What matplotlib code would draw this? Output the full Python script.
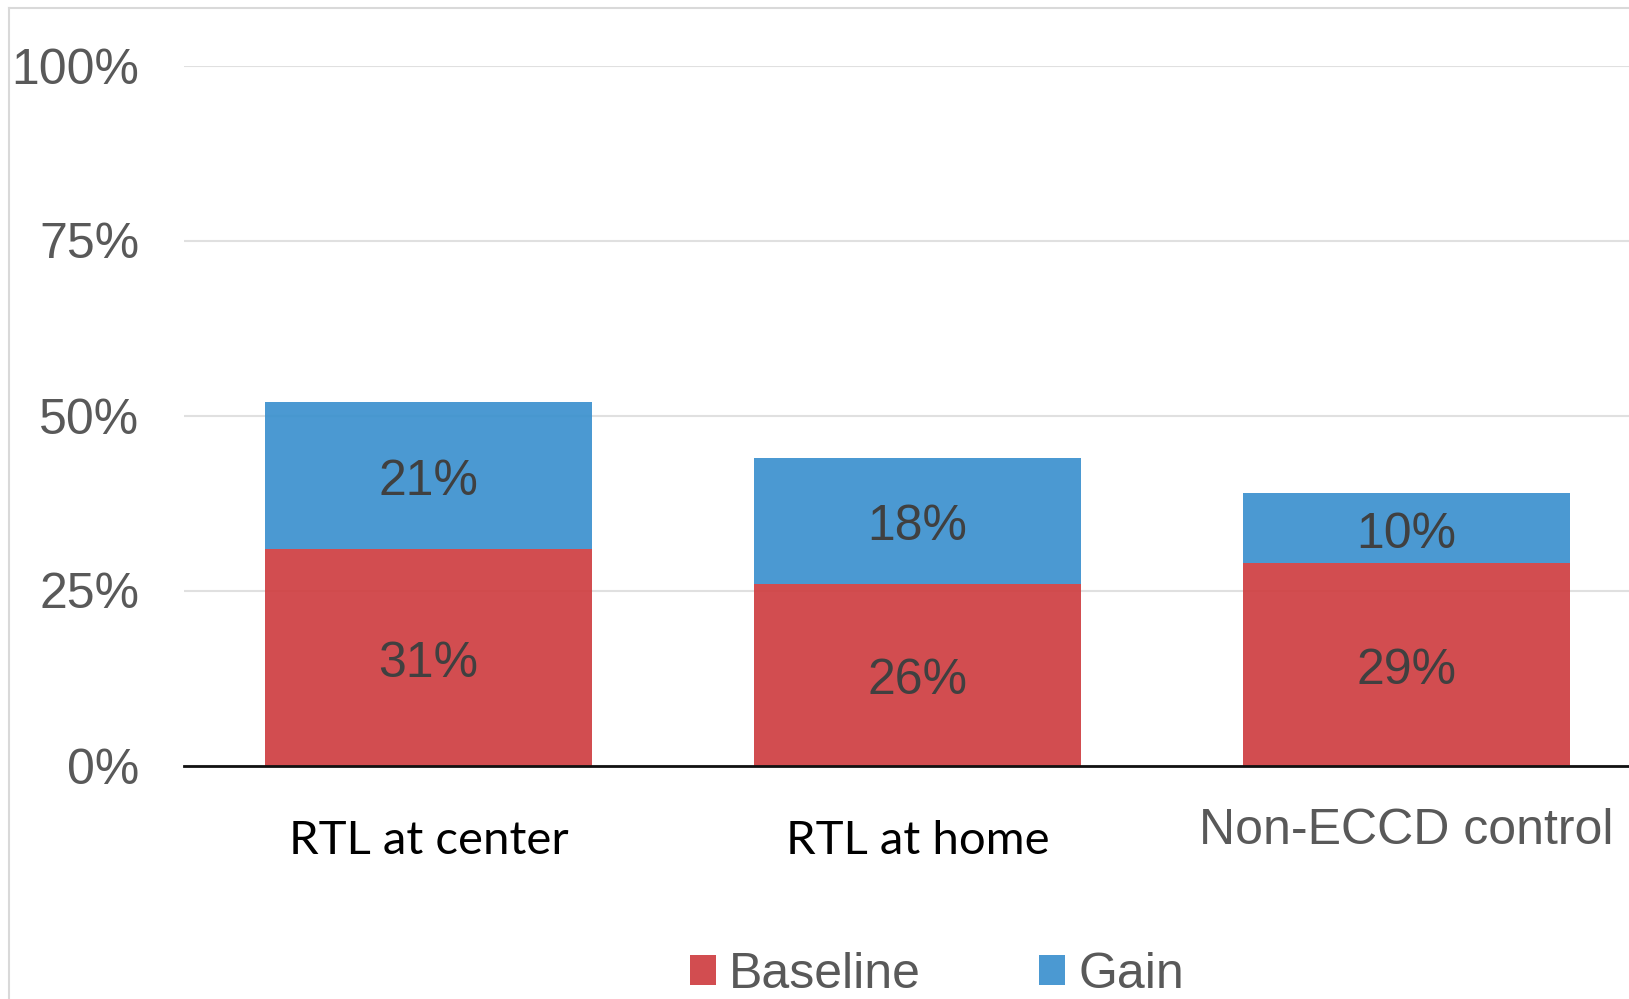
import matplotlib
matplotlib.use("Agg")
import matplotlib.pyplot as plt
import matplotlib.transforms as mtransforms
from matplotlib.patches import Patch
from matplotlib.lines import Line2D

# ---- data ----
categories = ["RTL at center", "RTL at home", "Non-ECCD control"]
baseline = [31, 26, 29]
gain = [21, 18, 10]
series_names = ["Baseline", "Gain"]
yticks = [0, 25, 50, 75, 100]
ytick_labels = ["0%", "25%", "50%", "75%", "100%"]

# ---- style ----
plt.rcParams["font.family"] = ["Liberation Sans", "DejaVu Sans"]
RED = "#CF3E41"
BLUE = "#3B91CE"
BAR_ALPHA = 0.92
GRAY_TXT = "#595959"
LABEL_TXT = "#404040"
W, H = 1629, 999

fig = plt.figure(figsize=(W / 100, H / 100), dpi=100)
ax = fig.add_axes([184 / W, (H - 765.5) / H, 1467 / W, 700 / H])

x = list(range(len(categories)))
ax.bar(x, baseline, width=0.67, color=RED, alpha=BAR_ALPHA, zorder=2, linewidth=0)
ax.bar(x, gain, width=0.67, bottom=baseline, color=BLUE, alpha=BAR_ALPHA, zorder=2, linewidth=0)

ax.set_xlim(-0.5, len(categories) - 0.5)
ax.set_ylim(0, 100)
ax.set_yticks(yticks)
ax.set_yticklabels(ytick_labels, fontsize=36, color=GRAY_TXT)
ax.tick_params(axis="y", length=0, pad=32)
ax.set_xticks([])
ax.yaxis.grid(True, color="#E0E0E0", linewidth=1.5, zorder=0)
ax.set_axisbelow(True)
for s in ["top", "right", "left"]:
    ax.spines[s].set_visible(False)
ax.spines["bottom"].set_color("#111111")
ax.spines["bottom"].set_linewidth(2)
ax.spines["bottom"].set_zorder(3)

# data labels
lab_tr = mtransforms.offset_copy(ax.transData, fig=fig, x=0, y=-7, units="dots")
for i in x:
    ax.text(i, baseline[i] / 2, f"{baseline[i]}%", ha="center", va="center",
            fontsize=36, color=LABEL_TXT, zorder=4, transform=lab_tr)
    ax.text(i, baseline[i] + gain[i] / 2, f"{gain[i]}%", ha="center", va="center",
            fontsize=36, color=LABEL_TXT, zorder=4, transform=lab_tr)

# category labels
blend = mtransforms.blended_transform_factory(ax.transData, ax.transAxes)
cat_style = [
    dict(offset=-88.5, family=["Lato", "DejaVu Sans"], size=34, color="black"),
    dict(offset=-88.5, family=["Lato", "DejaVu Sans"], size=34, color="black"),
    dict(offset=-78.5, family=["Liberation Sans", "DejaVu Sans"], size=36, color=GRAY_TXT),
]
for i, (cat, st) in enumerate(zip(categories, cat_style)):
    tr = mtransforms.offset_copy(blend, fig=fig, x=0, y=st["offset"], units="dots")
    ax.text(i, 0, cat, transform=tr, ha="center", va="baseline",
            fontsize=st["size"], family=st["family"], color=st["color"], clip_on=False)

# legend
handles = [Patch(facecolor=RED, alpha=BAR_ALPHA, linewidth=0),
           Patch(facecolor=BLUE, alpha=BAR_ALPHA, linewidth=0)]
fig.legend(handles, series_names, loc="center", bbox_to_anchor=(937 / W, (H - 975) / H),
           ncol=2, frameon=False, fontsize=36, handlelength=0.52, handleheight=0.54,
           handletextpad=0.26, columnspacing=2.36, labelcolor=GRAY_TXT, borderpad=0)

# outer frame (left and top edges visible)
fig.add_artist(Line2D([8.5 / W, 8.5 / W], [0, 1 - 7.5 / H], transform=fig.transFigure,
                      color="#D9D9D9", linewidth=1.5))
fig.add_artist(Line2D([8.5 / W, 1], [1 - 7.5 / H, 1 - 7.5 / H], transform=fig.transFigure,
                      color="#D9D9D9", linewidth=1.5))

fig.savefig("out.png", dpi=100)
